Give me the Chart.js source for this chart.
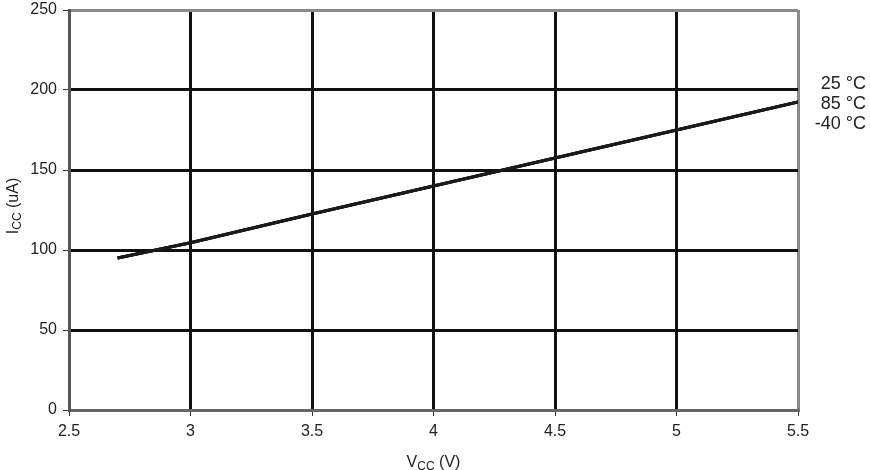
<!DOCTYPE html>
<html>
<head>
<meta charset="utf-8">
<script src="https://cdn.jsdelivr.net/npm/chart.js@4/dist/chart.umd.min.js"></script>
<style>
  body { margin: 0; background: #fff; }
  #wrap { width: 870px; height: 470px; }
</style>
</head>
<body>
<div id="wrap"><canvas id="iccChart"></canvas></div>
<script>
// supply current vs supply voltage, three temperatures (curves overlap)
const vcc = [2.7, 3, 3.5, 4, 4.5, 5, 5.5];
const icc25 = [95, 104.5, 122.5, 140, 157.5, 175, 192.5];
const icc85 = [95, 104.5, 122.5, 140, 157.5, 175, 192.5];
const iccM40 = [95, 104.5, 122.5, 140, 157.5, 175, 192.5];
const tempLabels = ['25 °C', '85 °C', '-40 °C'];
const tempLabelAt = [204, 191, 179]; // y value where each label sits

const font = 'Liberation Sans, Arial, sans-serif';

// axis titles with subscripts + temperature labels
const annotations = {
    id: 'annotations',
    afterDraw(chart) {
        const ctx = chart.ctx;
        const area = chart.chartArea;
        const y = chart.scales.y;
        ctx.save();
        ctx.fillStyle = '#222';
        ctx.textBaseline = 'alphabetic';

        // x title: Vcc (V)
        ctx.font = '16px ' + font;
        let w1 = ctx.measureText('V').width;
        ctx.font = '12px ' + font;
        let w2 = ctx.measureText('CC').width;
        ctx.font = '16px ' + font;
        let w3 = ctx.measureText(' (V)').width;
        let x0 = (area.left + area.right) / 2 - (w1 + w2 + w3) / 2;
        let yb = 467;
        ctx.fillText('V', x0, yb);
        ctx.font = '12px ' + font;
        ctx.fillText('CC', x0 + w1, yb + 3);
        ctx.font = '16px ' + font;
        ctx.fillText(' (V)', x0 + w1 + w2, yb);

        // y title: Icc (uA)
        ctx.translate(18, (area.top + area.bottom) / 2);
        ctx.rotate(-Math.PI / 2);
        ctx.font = '16px ' + font;
        w1 = ctx.measureText('I').width;
        ctx.font = '12px ' + font;
        w2 = ctx.measureText('CC').width;
        ctx.font = '16px ' + font;
        w3 = ctx.measureText(' (uA)').width;
        x0 = -(w1 + w2 + w3) / 2 + 4;
        ctx.fillText('I', x0, 0);
        ctx.font = '12px ' + font;
        ctx.fillText('CC', x0 + w1, 3);
        ctx.font = '16px ' + font;
        ctx.fillText(' (uA)', x0 + w1 + w2, 0);
        ctx.restore();

        ctx.save();
        ctx.fillStyle = '#222';
        ctx.font = '18px ' + font;
        ctx.textAlign = 'right';
        ctx.textBaseline = 'middle';
        tempLabels.forEach((t, i) => {
            ctx.fillText(t, 866, y.getPixelForValue(tempLabelAt[i]));
        });
        ctx.restore();
    }
};

const lineStyle = { borderColor: '#1a1a1a', borderWidth: 3, pointRadius: 0, tension: 0, fill: false };

new Chart(document.getElementById('iccChart'), {
    type: 'line',
    data: {
        datasets: [
            Object.assign({ label: tempLabels[0], data: vcc.map((v, i) => ({ x: v, y: icc25[i] })) }, lineStyle),
            Object.assign({ label: tempLabels[1], data: vcc.map((v, i) => ({ x: v, y: icc85[i] })) }, lineStyle),
            Object.assign({ label: tempLabels[2], data: vcc.map((v, i) => ({ x: v, y: iccM40[i] })) }, lineStyle)
        ]
    },
    options: {
        responsive: true,
        maintainAspectRatio: false,
        animation: false,
        layout: { padding: { top: 10, right: 72, left: 0, bottom: 0 } },
        plugins: { legend: { display: false }, tooltip: { enabled: false } },
        scales: {
            x: {
                type: 'linear',
                min: 2.5,
                max: 5.5,
                ticks: {
                    stepSize: 0.5, color: '#222', font: { family: font, size: 16 }, padding: 6,
                    callback: v => String(v)
                },
                grid: {
                    color: c => c.index === 0 ? 'rgba(0,0,0,0)' : (c.tick.value === 5.5 ? '#8a8a8a' : '#111'),
                    lineWidth: 3,
                    tickColor: '#333',
                    tickLength: 6,
                    tickWidth: 1
                },
                border: { color: '#666', width: 3 },
                afterFit: s => { s.height = 60; s.paddingLeft = 0; s.paddingRight = 0; }
            },
            y: {
                min: 0,
                max: 250,
                ticks: { stepSize: 50, color: '#222', font: { family: font, size: 16 }, padding: 6 },
                grid: {
                    color: c => c.index === 0 ? 'rgba(0,0,0,0)' : (c.tick.value === 250 ? '#8a8a8a' : '#111'),
                    lineWidth: 3,
                    tickColor: '#333',
                    tickLength: 6,
                    tickWidth: 1
                },
                border: { color: '#555', width: 3 },
                afterFit: s => { s.width = 69; s.paddingTop = 0; s.paddingBottom = 0; }
            }
        }
    },
    plugins: [annotations]
});
</script>
</body>
</html>
